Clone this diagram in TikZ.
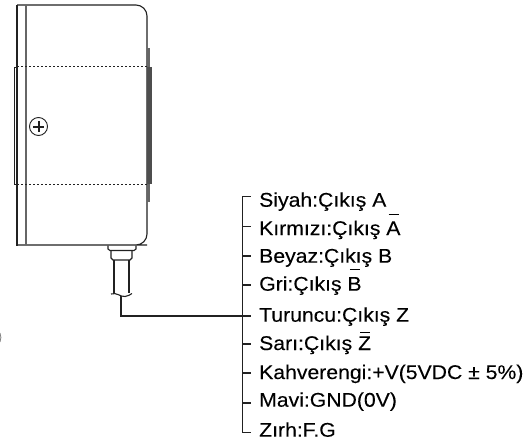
\documentclass[tikz,border=0pt]{standalone}
\usepackage{fontspec}
\setmainfont[FakeStretch=1.07,FakeBold=0.12]{Liberation Sans}
\definecolor{kasa}{gray}{0.13}
\newcommand{\ustcizgi}[2]{\rlap{\hspace{.12em}\raisebox{#2}{\rule{.5em}{.9pt}}}#1}
\tikzset{
  etiket/.style={anchor=base west, inner sep=0pt, font=\fontsize{19.8}{19.8}\selectfont, text=black},
  kablo/.style={draw=kasa, line width=1.1pt},
  kenar/.style={draw=kasa, line width=1.1pt},
  kesik/.style={draw=kasa, line width=0.8pt, dash pattern=on 2.2pt off 1.8pt}
}
\begin{document}
\begin{tikzpicture}[x=1pt,y=-1pt]
\useasboundingbox (0,0) rectangle (529,444);
% housing
\draw[kenar] (17,5) -- (136,5) [rounded corners=11pt] -- (147,5) -- (147,245) -- (136,245) [sharp corners] -- (17,245);
\draw[kasa, line width=2pt] (17,5) -- (17,245.5);
\draw[gray!80!black, line width=1.1pt] (26,5) -- (26,245);
\draw[kasa, line width=0.8pt] (17,67) -- (14.5,67) -- (14.5,184) -- (17,184);
\draw[kesik] (17,66.5) -- (147,66.5);
\draw[kesik] (17,184) -- (147,184);
% right strip
\fill[gray!80!black] (147,48) rectangle (150,202);
\fill[kasa!80] (147,66.5) rectangle (151.5,184);
% screw
\draw[kasa, line width=0.9pt] (38.5,126.5) circle (9);
\draw[kasa, line width=2pt] (33,126.5) -- (44,126.5);
\draw[kasa, line width=2pt] (38.5,121) -- (38.5,132);
% connector
\draw[kenar] (108,245.5) -- (108,249) -- (110,250.5) -- (134,250.5) -- (136,249) -- (136,245.5);
\draw[kenar] (111,250.5) -- (111,258) -- (113,260) -- (130,260) -- (132,258) -- (132,250.5);
\draw[kenar] (114,260) -- (114,293);
\draw[kenar] (129,260) -- (129,293);
\draw[kenar] (111,294) .. controls (117,292) and (120,297) .. (125,296.5) .. controls (128,296) and (130,295) .. (132,293.5);
% wire and bus
\coordinate (kablo) at (121,296);
\coordinate (bus1) at (242.5,196.5);
\coordinate (bus5) at (242.5,316);
\coordinate (bus9) at (242.5,432.5);
\draw[kablo] (kablo) |- (bus5);
\draw[kablo] (250.5,196.5) -- (bus1) -- (bus9) -- (250.5,432.5);
\foreach \y in {226.5,256,285,316,344,373,403}
  \draw[kablo] (242.5,\y) -- (250.5,\y);
% edge of the page
\draw[gray, line width=0.8pt] (0,333) .. controls (1.2,336) and (1.2,339) .. (0,342);
% labels
\node[etiket] (siyah) at (259,206.7) {Siyah:Çıkış A};
\node[etiket] (kirmizi) at (259,235) {Kırmızı:Çıkış \ustcizgi{A}{20.5pt}};
\node[etiket] (beyaz) at (259,262.7) {Beyaz:Çıkış B};
\node[etiket] (gri) at (259,290.7) {Gri:Çıkış \ustcizgi{B}{21pt}};
\node[etiket] (turuncu) at (259,321.7) {Turuncu:Çıkış Z};
\node[etiket] (sari) at (259,350) {Sarı:Çıkış \ustcizgi{Z}{17.5pt}};
\node[etiket] (kahve) at (259,379) {Kahverengi:+V(5VDC ± 5\%)};
\node[etiket] (mavi) at (259,406.7) {Mavi:GND(0V)};
\node[etiket] (zirh) at (259,436.7) {Zırh:F.G};
\end{tikzpicture}
\end{document}
